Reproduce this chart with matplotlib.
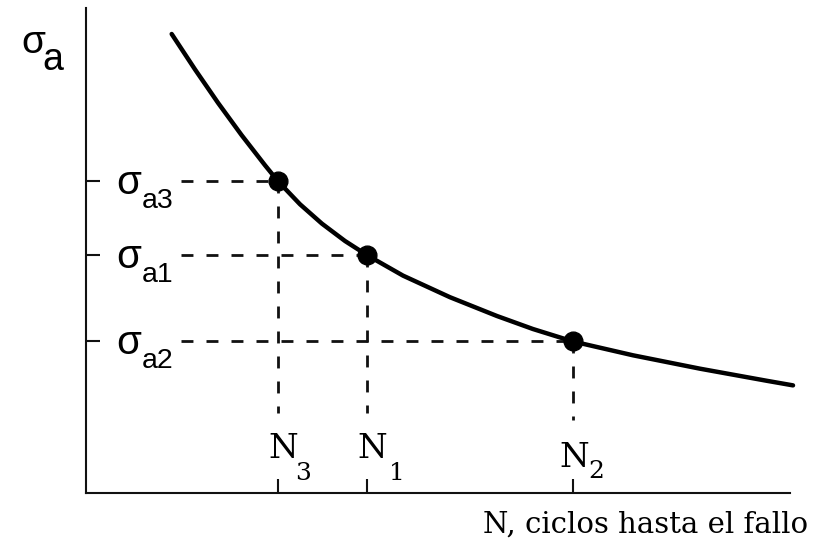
import matplotlib
matplotlib.use("Agg")
import matplotlib.pyplot as plt

plt.rcParams['lines.scale_dashes'] = False

# curve (arbitrary units, axes 0..100)
curve_n = [12.17, 15.48, 18.75, 22.09, 25.43, 27.27, 30.40, 33.52, 36.79, 39.91,
           45.03, 51.70, 58.38, 63.49, 69.18, 77.70, 87.22, 96.73, 100.43]
curve_s = [94.64, 87.34, 80.45, 73.81, 67.57, 64.29, 59.53, 55.53, 51.96, 49.05,
           44.82, 40.37, 36.49, 33.81, 31.24, 28.39, 25.63, 23.13, 22.19]

# marked points
point_n = [27.27, 39.91, 69.18]
point_s = [64.29, 49.05, 31.24]
n_subs = ['3', '1', '2']
s_subs = ['a3', 'a1', 'a2']

x_label = 'N, ciclos hasta el fallo'

W, H = 832, 541
fig = plt.figure(figsize=(W / 100, H / 100), dpi=100)
ax = fig.add_axes([86 / W, 48 / H, 704 / W, 485 / H])
ax.set_xlim(0, 100)
ax.set_ylim(0, 100)

for side in ['top', 'right']:
    ax.spines[side].set_visible(False)
for side in ['left', 'bottom']:
    ax.spines[side].set_linewidth(1.5)
    ax.spines[side].set_color('#111111')

ax.set_xticks(point_n)
ax.set_yticks(point_s)
ax.set_xticklabels([])
ax.set_yticklabels([])
ax.tick_params(axis='both', direction='in', length=10, width=1.5, color='#111111')

dash = dict(color='#111111', lw=2.0, dashes=(8.6, 9.4), clip_on=False)
v_stop = [16.5, 16.5, 15.0]
for n, s, stop in zip(point_n, point_s, v_stop):
    ax.plot([13.5, n], [s, s], **dash)
    ax.plot([n, n], [s, stop], **dash)

ax.plot(curve_n, curve_s, color='black', lw=3.2, solid_capstyle='round',
        solid_joinstyle='round', clip_on=False, zorder=3)
ax.plot(point_n, point_s, 'o', color='black', ms=13.5, zorder=4)

sans = 'Liberation Sans'
serif = 'DejaVu Serif'

# sigma labels on the left axis
for s, sub in zip(point_s, s_subs):
    ax.annotate('σ', xy=(0, s), xytext=(30, -13), textcoords='offset pixels',
                ha='left', va='baseline', fontsize=29, family=sans)
    ax.annotate(sub, xy=(0, s), xytext=(56, -27), textcoords='offset pixels',
                ha='left', va='baseline', fontsize=20.5, family=sans)

# axis title sigma_a
ax.annotate('σ', xy=(0, 1), xycoords='axes fraction', xytext=(-65, -45),
            textcoords='offset pixels', ha='left', va='baseline', fontsize=28, family=sans)
ax.annotate('a', xy=(0, 1), xycoords='axes fraction', xytext=(-44, -62),
            textcoords='offset pixels', ha='left', va='baseline', fontsize=27, family=sans)

# N labels above the bottom axis
n_off = [(-10, 35, 17, 13), (-10, 35, 22, 13), (-14, 26, 15, 15)]
for n, sub, (nx, ny, sx, sy) in zip(point_n, n_subs, n_off):
    ax.annotate('N', xy=(n, 0), xytext=(nx, ny), textcoords='offset pixels',
                ha='left', va='baseline', fontsize=24.5, family=serif)
    ax.annotate(sub, xy=(n, 0), xytext=(sx, sy), textcoords='offset pixels',
                ha='left', va='baseline', fontsize=18, family=serif)

fig.text(483 / W, (H - 533) / H, x_label, ha='left', va='baseline',
         fontsize=21, family=serif)

fig.savefig('out.png', dpi=100, facecolor='white')
